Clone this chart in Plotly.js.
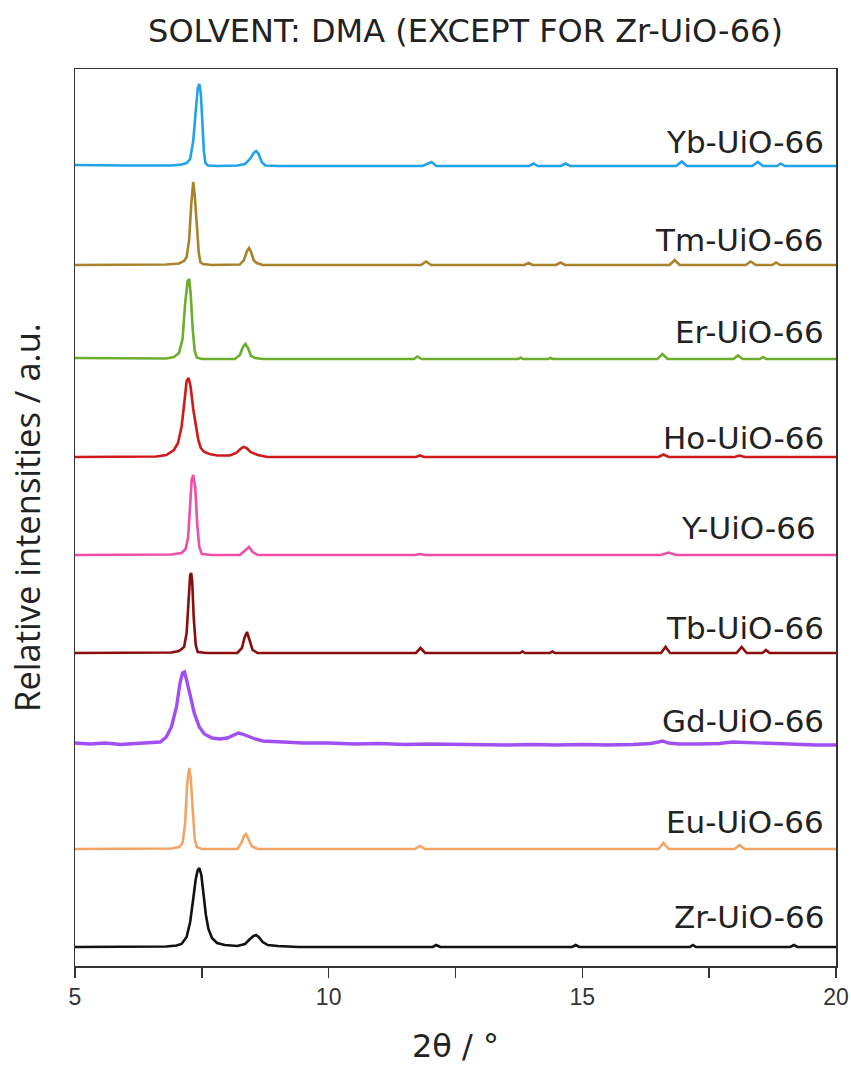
<!DOCTYPE html>
<html>
<head>
<meta charset="utf-8">
<script src="https://cdn.plot.ly/plotly-3.0.1.min.js"></script>
<style>html,body{margin:0;padding:0;background:#fff;}#chart{width:851px;height:1065px;}</style>
</head>
<body>
<div id="chart"></div>
<script>
// ---- data (2θ in degrees, intensity above each pattern's baseline, a.u.) ----
const names = ["Zr-UiO-66","Eu-UiO-66","Gd-UiO-66","Tb-UiO-66","Y-UiO-66","Ho-UiO-66","Er-UiO-66","Tm-UiO-66","Yb-UiO-66"];
const offsets = [19, 117, 221, 313, 411, 509, 607, 701, 800];

const x_Zr = [5,6,6.8,7.0,7.1,7.2,7.27,7.33,7.38,7.42,7.45,7.49,7.53,7.58,7.63,7.7,7.8,7.95,8.2,8.35,8.45,8.52,8.57,8.62,8.7,8.8,9.0,9.4,12.05,12.12,12.2,14.8,14.87,14.94,17.12,17.18,17.24,19.1,19.17,19.24,20];
const y_Zr = [0,0,0.5,1.5,3,10,25,48,68,77,79,72,52,32,18,9,4,2,1,3,8,11,12,10,5,2,1,0,0,2,0,0,2,0,0,2,0,0,2,0,0];

const x_Eu = [5,6,6.9,7.05,7.12,7.17,7.21,7.25,7.28,7.32,7.36,7.4,7.5,8.2,8.28,8.33,8.37,8.42,8.48,8.6,11.7,11.8,11.9,16.5,16.6,16.7,18.0,18.1,18.2,20];
const y_Eu = [0,0,0.5,2,6,25,65,81,72,40,10,2,0,0,6,13,15,10,3,0,0,3,0,0,6,0,0,4,0,0];

const x_Gd = [5,5.3,5.6,5.9,6.2,6.5,6.68,6.8,6.9,7.0,7.07,7.12,7.16,7.2,7.27,7.35,7.45,7.55,7.7,7.85,8.0,8.12,8.22,8.3,8.4,8.55,8.7,9.0,9.5,10,10.5,11,11.5,12,12.5,13,13.5,14,14.5,15,15.5,16,16.35,16.5,16.58,16.7,16.9,17.3,17.7,17.95,18.2,18.5,18.8,19.2,19.6,20];
const y_Gd = [2,1,2,0.5,1.5,2,3,8,18,38,62,72,73,65,48,32,18,11,7,6,7,10,12,11,9,6,4,3,2,2,1,1.5,0.5,1,0.5,0.5,0,0.5,0,0.5,0,0.5,1.5,3,4,2,1,1,1.5,3,2.5,2,1,0.5,0,0];

const x_Tb = [5,6,6.9,7.05,7.15,7.2,7.24,7.27,7.29,7.31,7.34,7.38,7.42,7.6,8.2,8.29,8.34,8.39,8.44,8.5,8.6,11.72,11.81,11.9,13.77,13.82,13.87,14.36,14.41,14.46,16.55,16.64,16.73,18.04,18.14,18.24,18.55,18.62,18.69,20];
const y_Tb = [0,0,0.5,2,6,20,55,78,80,72,35,8,1,0,0,5,15,21,13,3,0,0,5,0,0,1.5,0,0,1.5,0,0,6,0,0,6,0,0,3,0,0];

const x_Y = [5,6,6.9,7.1,7.18,7.23,7.27,7.3,7.33,7.37,7.41,7.45,7.5,7.7,8.25,8.35,8.43,8.5,8.6,11.7,11.8,11.9,16.55,16.7,16.85,20];
const y_Y = [0,0,0.5,2,6,18,50,75,80,68,30,8,1,0,0,4,8,3,0,0,1,0,0,2.5,0,0];

const x_Ho = [5,6,6.6,6.8,6.95,7.03,7.1,7.15,7.2,7.24,7.28,7.33,7.38,7.43,7.48,7.55,7.65,7.8,8.05,8.18,8.26,8.32,8.38,8.46,8.6,8.8,11.72,11.8,11.88,16.5,16.6,16.7,18.0,18.1,18.2,20];
const y_Ho = [0,0,0.5,2,7,14,30,52,76,79,70,48,30,17,9,5,3,1.5,1.5,4,8,10,9,5,2,0,0,1.5,0,0,2.5,0,0,1.5,0,0];

const x_Er = [5,6,6.8,6.95,7.05,7.12,7.17,7.22,7.25,7.28,7.32,7.36,7.4,7.5,8.15,8.25,8.31,8.36,8.41,8.47,8.55,8.7,11.68,11.75,11.83,13.74,13.78,13.83,14.33,14.37,14.42,16.48,16.58,16.68,17.98,18.07,18.16,18.5,18.56,18.62,20];
const y_Er = [1,0.5,0.5,2,6,20,55,78,80,65,30,8,1.5,0,0,4,12,15,11,3,1,0,0,2.5,0,0,1.5,0,0,1,0,0,5,0,0,3.5,0,0,2,0,0];

const x_Tm = [5,6,6.8,7.05,7.15,7.2,7.25,7.29,7.33,7.36,7.4,7.44,7.47,7.52,7.7,8.25,8.33,8.39,8.43,8.47,8.52,8.58,8.7,11.82,11.92,12.02,13.86,13.94,14.02,14.48,14.57,14.66,16.72,16.82,16.92,18.22,18.32,18.42,18.74,18.82,18.9,20];
const y_Tm = [0,0,0.5,1.5,4,8,25,60,83,70,35,12,3,1,0,0.5,5,14,17,13,5,2,0,0,3.5,0,0,2,0,0,2.5,0,0,5,0,0,3.5,0,0,2.5,0,0];

const x_Yb = [5.0,5.5,6.0,6.5,6.9,7.1,7.2,7.27,7.33,7.38,7.42,7.45,7.48,7.51,7.54,7.57,7.62,7.8,8.2,8.35,8.45,8.52,8.57,8.62,8.68,8.75,9.0,11.85,11.95,12.03,12.12,13.95,14.04,14.12,14.58,14.67,14.76,16.85,16.96,17.06,18.35,18.46,18.56,18.84,18.91,18.99,20.0];
const y_Yb = [1,0.5,0.5,0.5,0.5,1.5,3,7,25,55,78,82,72,45,15,3,0.5,0,0.5,2,7,13,15,12,4,0.5,0,0,2.5,4,0,0,2.5,0,0,2.5,0,0,4.5,0,0,4,0,0,2.5,0,0];

const xs = [x_Zr, x_Eu, x_Gd, x_Tb, x_Y, x_Ho, x_Er, x_Tm, x_Yb];
const ys = [y_Zr, y_Eu, y_Gd, y_Tb, y_Y, y_Ho, y_Er, y_Tm, y_Yb];

// ---- styles ----
const colors = ["#111111","#f2a464","#a04ff2","#8a0c0c","#f04fa8","#d01a1a","#6cae2c","#a8832c","#22a2ea"];
const widths = [2.6,2.6,3.4,2.6,2.6,2.6,2.6,2.6,2.6];
const labelY = [49, 144, 245, 338, 438, 528, 634, 726, 824];
const labelX = [19.8, 19.8, 19.8, 19.8, 19.65, 19.8, 19.8, 19.8, 19.8];

const traces = names.map((n, i) => ({
  type: "scatter", mode: "lines", name: n,
  x: xs[i], y: ys[i].map(v => v + offsets[i]),
  line: {color: colors[i], width: widths[i], shape: "linear"},
  hoverinfo: "skip"
}));

const annotations = names.map((n, i) => ({
  text: n, x: labelX[i], y: labelY[i], xref: "x", yref: "y",
  xanchor: "right", yanchor: "middle", showarrow: false,
  font: {family: "DejaVu Sans, Verdana, sans-serif", size: 31, color: "#222"}
}));

const layout = {
  width: 851, height: 1065,
  margin: {l: 75, r: 15, t: 69, b: 99},
  paper_bgcolor: "#fff", plot_bgcolor: "#fff",
  showlegend: false,
  title: {text: "SOLVENT: DMA (EXCEPT FOR Zr-UiO-66)", x: 0.547, xanchor: "center",
          y: 0.971, yanchor: "middle", yref: "container",
          font: {family: "DejaVu Sans, Verdana, sans-serif", size: 32, color: "#222"}},
  xaxis: {range: [5, 20], showline: true, mirror: true, linecolor: "#333", linewidth: 1.5,
          ticks: "outside", ticklen: 10, tickwidth: 1.5, tickcolor: "#333", dtick: 5, tick0: 5,
          minor: {dtick: 2.5, tick0: 5, ticks: "outside", ticklen: 10, tickwidth: 1.5, tickcolor: "#333"},
          showgrid: false, zeroline: false,
          tickfont: {family: "Liberation Sans, Arial, sans-serif", size: 23, color: "#333"},
          title: {text: "2θ / °", standoff: 28,
                  font: {family: "DejaVu Sans, Verdana, sans-serif", size: 32, color: "#222"}}},
  yaxis: {range: [0, 897], showline: true, mirror: true, linecolor: "#333", linewidth: 1.5,
          ticks: "", showticklabels: false, showgrid: false, zeroline: false,
          title: {text: "Relative intensities / a.u.", standoff: 22,
                  font: {family: "Open Sans, sans-serif", size: 34.5, color: "#222"}}},
  annotations: annotations
};

Plotly.newPlot("chart", traces, layout, {staticPlot: true});
</script>
</body>
</html>
